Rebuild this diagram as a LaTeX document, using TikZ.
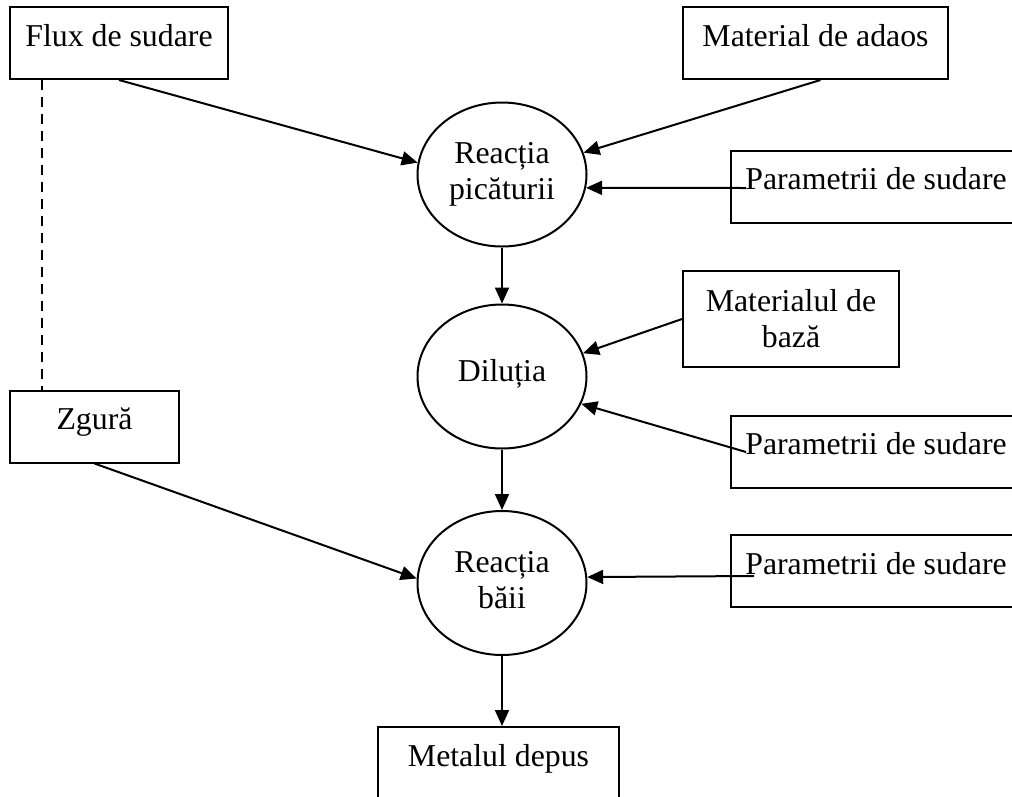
\documentclass[tikz,border=0pt]{standalone}
\usepackage{fontspec}
\setmainfont{Liberation Serif}
\usetikzlibrary{shapes.geometric,arrows.meta,calc}
\begin{document}
\begin{tikzpicture}[x=1pt,y=-1pt,line width=2pt,
  font=\fontsize{31.8pt}{36pt}\selectfont,
  box/.style={draw, rectangle, inner sep=0pt, minimum height=72pt, text height=22pt, text depth=16pt},
  tallbox/.style={draw, rectangle, inner sep=0pt, align=center},
  oval/.style={draw, ellipse, inner sep=0pt, minimum width=169pt, minimum height=144pt, align=center},
  arr/.style={-{Triangle[length=16pt,width=14pt]}},
  dashline/.style={dash pattern=on 10pt off 7pt, line width=1.6pt}]
\useasboundingbox (0,0) rectangle (1012,796);
\clip (0,0) rectangle (1012,796);
% boxes
\node[box, minimum width=218pt] (flux) at (119,43) {Flux de sudare};
\node[box, minimum width=265pt] (adaos) at (815.5,43) {Material de adaos};
\node[box, minimum width=290pt] (par1) at (876,186.5) {Parametrii de sudare};
\node[tallbox, minimum width=216pt, minimum height=96pt] (matb) at (791,319) {Materialul de\\bază};
\node[box, minimum width=290pt] (par2) at (876,451.5) {Parametrii de sudare};
\node[box, minimum width=169pt] (zg) at (94.5,426.5) {Zgură};
\node[box, minimum width=290pt] (par3) at (876,571) {Parametrii de sudare};
\node[box, minimum width=241pt] (met) at (498.5,763) {Metalul depus};
% ellipses
\node[oval] (e1) at (502,174.5) {Reacția\\picăturii};
\node[oval, text height=22pt, text depth=13pt] (e2) at (502,376.5) {Diluția};
\node[oval] (e3) at (502,583) {Reacția\\băii\vphantom{p}};
% connector ends
\coordinate (p1s) at ($(par1.west)+(16,1.5)$);
\coordinate (p2s) at ($(par2.west)+(16,0.5)$);
\coordinate (p3s) at ($(par3.west)+(24,5)$);
\coordinate (ads) at ($(adaos.south)+(5,0)$);
\coordinate (fd) at ($(flux.south west)+(33,0)$);
% connectors
\draw[arr] (flux.south) -- (e1.172);
\draw[arr] (ads) -- (e1.15);
\draw[arr] (p1s) -- (e1.-9);
\draw[arr] (e1.south) -- (e2.north);
\draw[arr] (matb.west) -- (e2.16);
\draw[arr] (p2s) -- (e2.-19);
\draw[arr] (e2.south) -- (e3.north);
\draw[arr] (zg.south) -- (e3.177);
\draw[arr] (p3s) -- (e3.4);
\draw[arr] (e3.south) -- (e3.south |- met.north);
\draw[dashline] (fd) -- (fd |- zg.north);
\end{tikzpicture}
\end{document}
